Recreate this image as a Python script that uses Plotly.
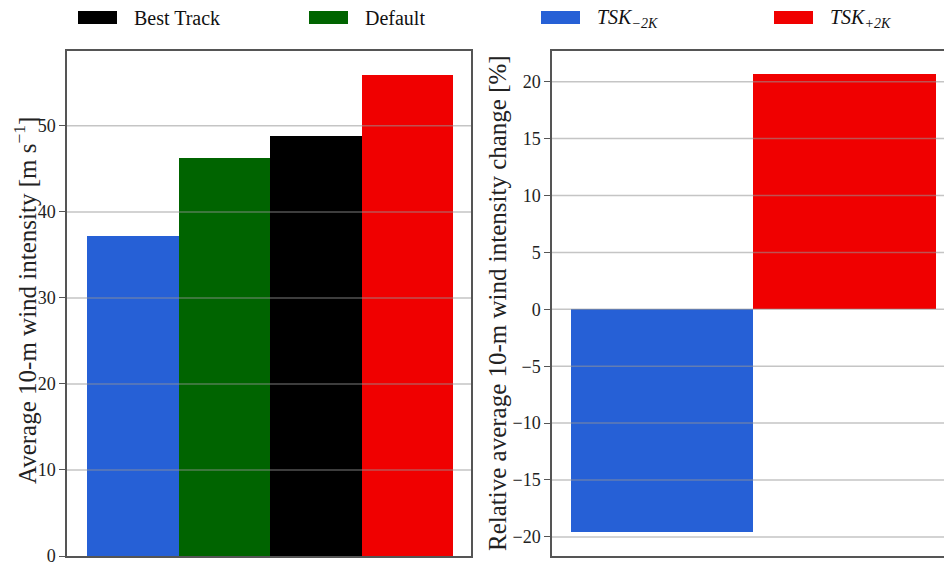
import plotly.graph_objects as go

# Average 10-m wind intensity per experiment [m s^-1]
cases = ["TSK_-2K", "Default", "Best Track", "TSK_+2K"]
intensity = [37.2, 46.3, 48.8, 55.9]

# Relative change of the average intensity with respect to Default [%]
change_cases = ["TSK_-2K", "TSK_+2K"]
relative_change = [-19.6, 20.7]

intensity_ticks = [0, 10, 20, 30, 40, 50]
change_ticks = [-20, -15, -10, -5, 0, 5, 10, 15, 20]

legend_names = ["Best Track", "Default",
                "<i>TSK</i><sub><i>−2K</i></sub>", "<i>TSK</i><sub><i>+2K</i></sub>"]

palette = {
    "Best Track": "#000000",
    "Default": "#006400",
    "TSK_-2K": "#2660d6",
    "TSK_+2K": "#f00000",
}
legend_colors = [palette["Best Track"], palette["Default"],
                 palette["TSK_-2K"], palette["TSK_+2K"]]

W, H = 944, 562
FONT = "Liberation Serif"
FRAME = "#555555"
GRID = "rgba(150,150,150,0.55)"


def px_x(p):
    return p / W


def px_y(p):
    return 1 - p / H


fig = go.Figure()

fig.add_trace(go.Bar(
    x=cases, y=intensity, width=1.0,
    marker=dict(color=[palette[c] for c in cases], line=dict(width=0)),
    xaxis="x", yaxis="y", showlegend=False,
))
fig.add_trace(go.Bar(
    x=change_cases, y=relative_change, width=1.0,
    marker=dict(color=[palette[c] for c in change_cases], line=dict(width=0)),
    xaxis="x2", yaxis="y2", showlegend=False,
))

ydom = [px_y(556), px_y(51)]
tickfont = dict(family=FONT, size=18, color="#222222")

fig.update_layout(
    width=W, height=H,
    margin=dict(l=0, r=0, t=0, b=0),
    paper_bgcolor="white", plot_bgcolor="white",
    bargap=0,
    font=dict(family=FONT, color="#222222"),
    xaxis=dict(domain=[px_x(67), px_x(471)], range=[-0.719, 3.696],
               showticklabels=False, ticks="", showgrid=False,
               showline=True, mirror=True, linecolor=FRAME, linewidth=1.5,
               zeroline=False, automargin=False),
    yaxis=dict(domain=ydom, range=[0, 58.7],
               tickvals=intensity_ticks, ticks="outside", ticklen=6,
               tickcolor=FRAME, tickwidth=1, tickfont=tickfont,
               ticklabeloverflow="allow", automargin=False,
               showgrid=False, zeroline=False,
               showline=True, mirror=True, linecolor=FRAME, linewidth=1.5),
    xaxis2=dict(domain=[px_x(552), 1.0], range=[-0.602, 1.545],
                showticklabels=False, ticks="", showgrid=False,
                showline=True, mirror=True, linecolor=FRAME, linewidth=1.5,
                zeroline=False, anchor="y2", automargin=False),
    yaxis2=dict(domain=ydom, range=[-21.68, 22.70], anchor="x2",
                tickvals=change_ticks, ticks="outside", ticklen=6,
                tickcolor=FRAME, tickwidth=1, tickfont=tickfont,
                ticklabeloverflow="allow", automargin=False,
                showgrid=False, zeroline=False,
                showline=True, mirror=False, linecolor=FRAME, linewidth=1.5),
)

shapes = []
# Grid lines drawn over the bars
for v in intensity_ticks[1:]:
    shapes.append(dict(type="line", xref="x domain", yref="y",
                       x0=0, x1=1, y0=v, y1=v, layer="above",
                       line=dict(color=GRID, width=1.5)))
for v in change_ticks:
    shapes.append(dict(type="line", xref="x2 domain", yref="y2",
                       x0=0, x1=1, y0=v, y1=v, layer="above",
                       line=dict(color=GRID, width=1.5)))

# Legend row across the top
annotations = []
swatch_x = [78, 309, 541, 774]
for name, col, sx in zip(legend_names, legend_colors, swatch_x):
    shapes.append(dict(type="rect", xref="paper", yref="paper",
                       x0=px_x(sx), x1=px_x(sx + 39), y0=px_y(24), y1=px_y(11),
                       fillcolor=col, line=dict(width=0)))
    annotations.append(dict(text=name, xref="paper", yref="paper",
                            x=px_x(sx + 54), y=px_y(18), xanchor="left",
                            yanchor="middle", showarrow=False,
                            font=dict(family=FONT, size=20, color="#111111")))

# Axis titles
annotations.append(dict(text="Average 10-m wind intensity [m s<sup>−1</sup>]",
                        xref="paper", yref="paper", x=px_x(25), y=px_y(301),
                        textangle=-90, xanchor="center", yanchor="middle",
                        showarrow=False,
                        font=dict(family=FONT, size=25, color="#222222")))
annotations.append(dict(text="Relative average 10-m wind intensity change [%]",
                        xref="paper", yref="paper", x=px_x(497), y=px_y(303),
                        textangle=-90, xanchor="center", yanchor="middle",
                        showarrow=False,
                        font=dict(family=FONT, size=25, color="#222222")))

fig.update_layout(shapes=shapes, annotations=annotations)

fig.write_html("out.html")
